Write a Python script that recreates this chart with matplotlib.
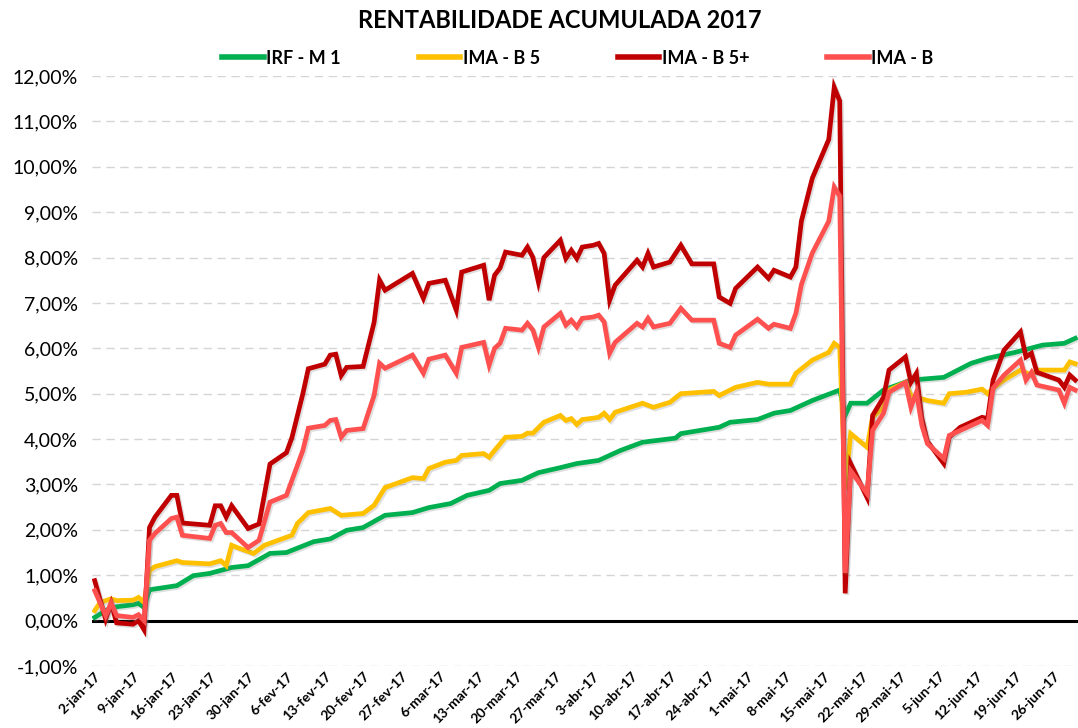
import pandas as pd
import matplotlib.pyplot as plt
import matplotlib.patheffects as pe
from matplotlib.lines import Line2D
from matplotlib.ticker import FuncFormatter

plt.rcParams['font.family'] = ['Lato', 'DejaVu Sans']

# IRF - M 1
irf_dates = ['2017-01-02', '2017-01-04', '2017-01-05', '2017-01-09', '2017-01-10', '2017-01-11', '2017-01-12',
             '2017-01-17', '2017-01-20', '2017-01-23', '2017-01-27', '2017-01-30', '2017-02-03', '2017-02-06',
             '2017-02-11', '2017-02-14', '2017-02-17', '2017-02-20', '2017-02-24', '2017-03-01', '2017-03-04',
             '2017-03-08', '2017-03-11', '2017-03-15', '2017-03-17', '2017-03-21', '2017-03-24', '2017-03-28',
             '2017-03-31', '2017-04-04', '2017-04-08', '2017-04-12', '2017-04-18', '2017-04-19', '2017-04-26',
             '2017-04-28', '2017-05-03', '2017-05-06', '2017-05-09', '2017-05-13', '2017-05-18', '2017-05-19',
             '2017-05-20', '2017-05-23', '2017-05-26', '2017-05-31', '2017-06-06', '2017-06-11', '2017-06-14',
             '2017-06-19', '2017-06-24', '2017-06-28', '2017-06-30']
irf_vals = [0.07, 0.22, 0.29, 0.35, 0.38, 0.29, 0.68, 0.77, 0.99, 1.04, 1.17, 1.21, 1.48, 1.50,
            1.74, 1.80, 1.99, 2.05, 2.32, 2.38, 2.49, 2.58, 2.76, 2.87, 3.02, 3.09, 3.26, 3.37,
            3.46, 3.53, 3.75, 3.93, 4.02, 4.12, 4.26, 4.37, 4.43, 4.57, 4.63, 4.85, 5.08, 4.52,
            4.79, 4.79, 5.08, 5.30, 5.36, 5.67, 5.78, 5.91, 6.07, 6.11, 6.22]

# IMA - B 5
imab5_dates = ['2017-01-02', '2017-01-03', '2017-01-05', '2017-01-06', '2017-01-09', '2017-01-10', '2017-01-11',
               '2017-01-12', '2017-01-13', '2017-01-17', '2017-01-18', '2017-01-23', '2017-01-25', '2017-01-26',
               '2017-01-27', '2017-01-28', '2017-01-31', '2017-02-02', '2017-02-07', '2017-02-08', '2017-02-10',
               '2017-02-14', '2017-02-16', '2017-02-20', '2017-02-22', '2017-02-24', '2017-03-01', '2017-03-03',
               '2017-03-04', '2017-03-07', '2017-03-09', '2017-03-10', '2017-03-14', '2017-03-15', '2017-03-16',
               '2017-03-18', '2017-03-21', '2017-03-22', '2017-03-23', '2017-03-25', '2017-03-28', '2017-03-29',
               '2017-03-30', '2017-03-31', '2017-04-01', '2017-04-03', '2017-04-04', '2017-04-05', '2017-04-06',
               '2017-04-07', '2017-04-12', '2017-04-14', '2017-04-17', '2017-04-19', '2017-04-25', '2017-04-26',
               '2017-04-29', '2017-05-03', '2017-05-05', '2017-05-09', '2017-05-10', '2017-05-13', '2017-05-16',
               '2017-05-17', '2017-05-18', '2017-05-19', '2017-05-20', '2017-05-23', '2017-05-24', '2017-05-26',
               '2017-05-27', '2017-05-30', '2017-05-31', '2017-06-03', '2017-06-06', '2017-06-07', '2017-06-10',
               '2017-06-13', '2017-06-14', '2017-06-15', '2017-06-17', '2017-06-20', '2017-06-22', '2017-06-23',
               '2017-06-28', '2017-06-29', '2017-06-30']
imab5_vals = [0.22, 0.40, 0.48, 0.44, 0.45, 0.51, 0.40, 1.10, 1.19, 1.32, 1.28, 1.25, 1.32, 1.21,
              1.66, 1.61, 1.48, 1.66, 1.88, 2.14, 2.38, 2.47, 2.32, 2.36, 2.54, 2.93, 3.15, 3.13,
              3.35, 3.49, 3.53, 3.64, 3.68, 3.60, 3.75, 4.04, 4.06, 4.13, 4.13, 4.37, 4.52, 4.41,
              4.45, 4.32, 4.43, 4.46, 4.48, 4.57, 4.43, 4.59, 4.79, 4.70, 4.81, 5.00, 5.05, 4.96,
              5.14, 5.25, 5.21, 5.21, 5.45, 5.74, 5.91, 6.11, 6.02, 2.90, 4.12, 3.82, 4.48, 4.70,
              5.08, 5.25, 4.96, 4.85, 4.79, 5.00, 5.03, 5.10, 5.00, 5.12, 5.30, 5.52, 5.41, 5.52,
              5.52, 5.70, 5.66]

# IMA - B 5+ and IMA - B share the same dates
imab_dates = ['2017-01-02', '2017-01-04', '2017-01-05', '2017-01-06', '2017-01-09', '2017-01-10', '2017-01-11',
              '2017-01-12', '2017-01-13', '2017-01-16', '2017-01-17', '2017-01-18', '2017-01-23', '2017-01-24',
              '2017-01-25', '2017-01-26', '2017-01-27', '2017-01-30', '2017-02-01', '2017-02-03', '2017-02-06',
              '2017-02-07', '2017-02-09', '2017-02-10', '2017-02-13', '2017-02-14', '2017-02-15', '2017-02-16',
              '2017-02-17', '2017-02-20', '2017-02-22', '2017-02-23', '2017-02-24', '2017-03-01', '2017-03-03',
              '2017-03-04', '2017-03-07', '2017-03-09', '2017-03-10', '2017-03-14', '2017-03-15', '2017-03-16',
              '2017-03-17', '2017-03-18', '2017-03-21', '2017-03-22', '2017-03-23', '2017-03-24', '2017-03-25',
              '2017-03-28', '2017-03-29', '2017-03-30', '2017-03-31', '2017-04-01', '2017-04-03', '2017-04-04',
              '2017-04-05', '2017-04-06', '2017-04-07', '2017-04-11', '2017-04-12', '2017-04-13', '2017-04-14',
              '2017-04-17', '2017-04-19', '2017-04-21', '2017-04-25', '2017-04-26', '2017-04-28', '2017-04-29',
              '2017-05-03', '2017-05-05', '2017-05-06', '2017-05-09', '2017-05-10', '2017-05-11', '2017-05-13',
              '2017-05-16', '2017-05-17', '2017-05-18', '2017-05-19', '2017-05-20', '2017-05-23', '2017-05-24',
              '2017-05-26', '2017-05-27', '2017-05-30', '2017-05-31', '2017-06-01', '2017-06-02', '2017-06-03',
              '2017-06-06', '2017-06-07', '2017-06-09', '2017-06-13', '2017-06-14', '2017-06-15', '2017-06-17',
              '2017-06-20', '2017-06-21', '2017-06-22', '2017-06-23', '2017-06-27', '2017-06-28', '2017-06-29',
              '2017-06-30']
imab5p_vals = [0.88, 0.03, 0.38, -0.05, -0.08, 0.00, -0.20, 2.05, 2.28, 2.76, 2.76, 2.15, 2.10, 2.53,
               2.53, 2.28, 2.53, 2.03, 2.13, 3.45, 3.70, 4.03, 5.00, 5.55, 5.65, 5.85, 5.87, 5.40,
               5.58, 5.60, 6.57, 7.50, 7.28, 7.65, 7.10, 7.43, 7.50, 6.84, 7.68, 7.83, 7.06, 7.61,
               7.77, 8.12, 8.05, 8.23, 8.00, 7.46, 8.00, 8.38, 7.98, 8.16, 7.98, 8.23, 8.27, 8.31,
               8.09, 7.06, 7.39, 7.94, 7.79, 8.09, 7.79, 7.90, 8.27, 7.86, 7.86, 7.13, 6.99, 7.32,
               7.79, 7.54, 7.72, 7.57, 7.79, 8.80, 9.75, 10.60, 11.75, 11.45, 0.60, 3.46, 2.71, 4.52,
               4.92, 5.52, 5.81, 5.25, 5.45, 4.46, 3.95, 3.46, 4.04, 4.26, 4.48, 4.45, 5.30, 5.96,
               6.36, 5.81, 5.89, 5.47, 5.30, 5.14, 5.41, 5.30]
imab_vals = [0.66, 0.11, 0.39, 0.11, 0.07, 0.13, 0.00, 1.77, 1.92, 2.25, 2.28, 1.88, 1.81, 2.10,
             2.14, 1.94, 1.94, 1.61, 1.77, 2.61, 2.76, 3.09, 3.75, 4.24, 4.30, 4.41, 4.43, 4.04,
             4.19, 4.23, 4.96, 5.67, 5.56, 5.85, 5.45, 5.76, 5.85, 5.45, 6.02, 6.13, 5.63, 6.00,
             6.11, 6.44, 6.40, 6.55, 6.40, 6.02, 6.47, 6.77, 6.51, 6.62, 6.47, 6.66, 6.69, 6.73,
             6.58, 5.89, 6.13, 6.55, 6.47, 6.66, 6.47, 6.55, 6.88, 6.62, 6.62, 6.11, 6.02, 6.29,
             6.64, 6.44, 6.53, 6.44, 6.77, 7.40, 8.10, 8.80, 9.55, 9.35, 1.05, 3.30, 2.80, 4.19,
             4.57, 5.03, 5.25, 4.70, 5.03, 4.30, 3.90, 3.57, 4.08, 4.19, 4.41, 4.30, 5.12, 5.41,
             5.74, 5.30, 5.47, 5.19, 5.08, 4.79, 5.14, 5.08]

meses = ['jan', 'fev', 'mar', 'abr', 'mai', 'jun']

series = [
    ('IRF - M 1', irf_dates, irf_vals, '#00B050'),
    ('IMA - B 5', imab5_dates, imab5_vals, '#FFC000'),
    ('IMA - B 5+', imab_dates, imab5p_vals, '#C00000'),
    ('IMA - B', imab_dates, imab_vals, '#FF5050'),
]


def pct_label(v, pos):
    return f'{v:.2f}%'.replace('.', ',')


def plot_chart():
    fig = plt.figure(figsize=(10.78, 7.28), dpi=100)
    ax = fig.add_axes([0.0853, 0.0852, 0.9147, 0.8104])

    shadow = [pe.SimpleLineShadow(offset=(1.2, -1.2), shadow_color='#808080', alpha=0.25), pe.Normal()]
    handles = []
    for name, dates, vals, color in series:
        ax.plot(pd.to_datetime(dates), vals, color=color, lw=3.4, solid_joinstyle='miter',
                path_effects=shadow, zorder=3)
        handles.append(Line2D([0], [0], color=color, lw=4, label=name))

    ax.axhline(0, color='black', lw=2.2, zorder=2)

    start = pd.Timestamp('2017-01-02')
    ax.set_xlim(start - pd.Timedelta(hours=12), pd.Timestamp('2017-06-30') + pd.Timedelta(hours=12))
    ax.set_ylim(-1, 12)
    ax.set_yticks(range(-1, 13))
    ax.yaxis.set_major_formatter(FuncFormatter(pct_label))
    ax.grid(axis='y', color='#D5D5D5', lw=1, linestyle=(0, (6, 4)), zorder=1)
    ax.grid(axis='x', visible=False)

    ticks = pd.date_range('2017-01-02', '2017-06-26', freq='7D')
    ax.set_xticks(ticks)
    ax.set_xticklabels([f'{d.day}-{meses[d.month - 1]}-17' for d in ticks],
                       rotation=45, ha='right', rotation_mode='anchor',
                       fontsize=10, fontweight='bold')
    ax.tick_params(axis='x', length=0, pad=3)
    ax.tick_params(axis='y', length=0, pad=10, labelsize=14)

    for s in ax.spines.values():
        s.set_visible(False)

    fig.text(0.519, 1 - 20 / 728, 'RENTABILIDADE ACUMULADA 2017', ha='center', va='center',
             fontsize=17, fontweight='bold')
    fig.legend(handles=handles, loc='center', bbox_to_anchor=(578 / 1078, 1 - 58 / 728), ncol=4,
               frameon=False, handlelength=2.3, handletextpad=0.15, columnspacing=4.3,
               prop={'size': 13, 'weight': 'bold'})

    fig.savefig('out.png', dpi=100)


if __name__ == '__main__':
    plot_chart()
